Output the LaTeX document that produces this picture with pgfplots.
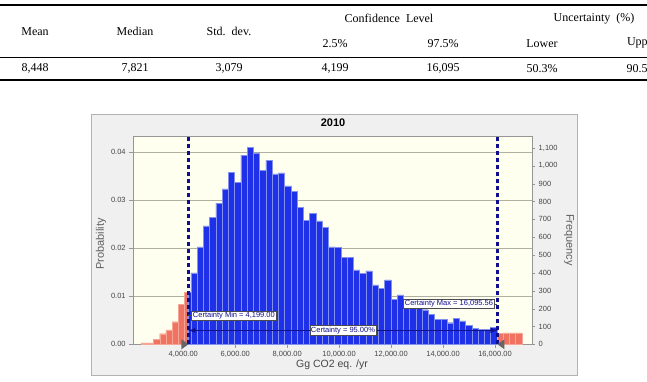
\documentclass[border=0pt]{standalone}
\usepackage{pgfplots}
\pgfplotsset{compat=1.18}
\usepackage{fontspec}
\setmainfont{Liberation Serif}
\newfontfamily\chartfont{Liberation Sans}

\definecolor{panelbg}{RGB}{240,240,240}
\definecolor{panelborder}{RGB}{178,178,178}
\definecolor{plotbg}{RGB}{255,255,240}
\definecolor{gridcol}{RGB}{176,176,160}
\definecolor{axisgray}{RGB}{150,150,150}
\definecolor{tickcol}{RGB}{70,70,70}
\definecolor{barblue}{RGB}{30,48,232}
\definecolor{baredge}{RGB}{130,145,238}
\definecolor{barred}{RGB}{240,114,96}
\definecolor{rededge}{RGB}{246,165,150}
\definecolor{certnavy}{RGB}{16,16,140}
\definecolor{labelgray}{RGB}{95,95,95}

% histogram bins: centre of bin, probability
\pgfplotstableread{
x y
2491.2 0.0003
2731.6 0.0003
2972.0 0.0011
3212.4 0.0022
3452.8 0.0030
3693.2 0.0047
3933.6 0.0083
}\lowtail
\pgfplotstableread{
x y
4414.4 0.0149
4654.8 0.0203
4895.2 0.0247
5135.6 0.0265
5376.0 0.0294
5616.4 0.0324
5856.8 0.0358
6097.2 0.0337
6337.6 0.0394
6578.0 0.0410
6818.4 0.0399
7058.8 0.0363
7299.2 0.0383
7539.6 0.0355
7780.0 0.0357
8020.4 0.0330
8260.8 0.0318
8501.2 0.0285
8741.6 0.0258
8982.0 0.0273
9222.4 0.0257
9462.8 0.0244
9703.2 0.0203
9943.6 0.0202
10184.0 0.0181
10424.4 0.0181
10664.8 0.0155
10905.2 0.0148
11145.6 0.0153
11386.0 0.0124
11626.4 0.0117
11866.8 0.0134
12107.2 0.0094
12347.6 0.0103
12588.0 0.0092
12828.4 0.0085
13068.8 0.0080
13309.2 0.0072
13549.6 0.0063
13790.0 0.0052
14030.4 0.0052
14270.8 0.0045
14511.2 0.0054
14751.6 0.0049
14992.0 0.0040
15232.4 0.0033
15472.8 0.0031
15713.2 0.0031
15953.6 0.0035
}\certain
\pgfplotstableread{
x y
16434.4 0.0024
16674.8 0.0024
16915.2 0.0024
}\hightail

\begin{document}
\begin{tikzpicture}[x=1pt,y=1pt]
\useasboundingbox (0,0) rectangle (647,-382);
\clip (0,0) rectangle (647,-382);

% ---- summary table ----
\draw[line width=2pt] (0,-4.7) -- (647,-4.7);
\draw[line width=1.2pt] (0,-57.3) -- (647,-57.3);
\draw[line width=2pt] (0,-80.2) -- (647,-80.2);
\begin{scope}[every node/.style={inner sep=0pt, font=\fontsize{12}{14}\selectfont}]
\node at (389,-18.3) {Confidence\ \ Level};
\node at (594,-18.3) {Uncertainty\ \ (\%)};
\node at (35,-31.5) {Mean};
\node at (135,-31.5) {Median};
\node at (229,-31.5) {Std.\ \ dev.};
\node at (335,-43.3) {2.5\%};
\node at (443,-43.3) {97.5\%};
\node at (542,-43.3) {Lower};
\node at (642,-43.3) {Upper};
\node at (35,-68.3) {8,448};
\node at (135,-68.3) {7,821};
\node at (229,-68.3) {3,079};
\node at (335,-68.3) {4,199};
\node at (443,-68.3) {16,095};
\node at (542,-68.3) {50.3\%};
\node at (642,-68.3) {90.5\%};
\end{scope}

% ---- chart panel ----
\filldraw[fill=panelbg, draw=panelborder, line width=0.8pt] (91.7,-114) rectangle (577,-375);
\node[font=\chartfont\bfseries\fontsize{11}{13}\selectfont] at (333,-122.5) {2010};
\node[rotate=90, text=labelgray, font=\chartfont\fontsize{11}{13}\selectfont] at (101,-244) {Probability};
\node[rotate=-90, text=labelgray, font=\chartfont\fontsize{11}{13}\selectfont] at (569,-240) {Frequency};
\node[text=tickcol, font=\chartfont\fontsize{10.5}{12}\selectfont] at (332,-365) {Gg CO2 eq. /yr};

% frequency scale on the right
\begin{axis}[
  at={(132.7pt,-344.3pt)}, anchor=south west,
  scale only axis, width=399pt, height=208.3pt,
  xmin=2052, xmax=17413, ymin=0, ymax=1167,
  hide x axis,
  axis y line*=right,
  axis line style={draw=axisgray},
  ytick={0,100,...,1100},
  yticklabels={0,100,200,300,400,500,600,700,800,900,{1,000},{1,100}},
  tick align=outside, major tick length=3.5pt,
  tick style={draw=axisgray},
  yticklabel style={font=\chartfont\fontsize{7.5}{9}\selectfont, text=tickcol},
]
\end{axis}

% probability histogram
\begin{axis}[
  at={(132.7pt,-344.3pt)}, anchor=south west,
  scale only axis, width=399pt, height=208.3pt,
  xmin=2052, xmax=17413, ymin=0, ymax=0.0434,
  clip=false,
  scaled x ticks=false, scaled y ticks=false,
  axis background/.style={fill=plotbg},
  axis line style={draw=axisgray},
  xtick={4000,6000,8000,10000,12000,14000,16000},
  xticklabels={{4,000.00},{6,000.00},{8,000.00},{10,000.00},{12,000.00},{14,000.00},{16,000.00}},
  ytick={0,0.01,0.02,0.03,0.04},
  /pgf/number format/fixed,
  /pgf/number format/fixed zerofill,
  /pgf/number format/precision=2,
  /pgf/number format/assume math mode=true,
  ticklabel style={font=\chartfont\fontsize{7.5}{9}\selectfont, text=tickcol},
  xtick pos=bottom, ytick pos=left,
  tick align=outside, major tick length=3.5pt,
  tick style={draw=axisgray},
  ymajorgrids, grid style={draw=gridcol, line width=0.8pt},
]
\addplot[ybar, bar shift=0pt, bar width=240.4, fill=barred, draw=rededge, line width=0.4pt] table {\lowtail};
\addplot[ybar, bar shift=0pt, bar width=145.2, fill=barred, draw=rededge, line width=0.4pt] coordinates {(4126.4,0.0109)};
\addplot[ybar, bar shift=0pt, bar width=95.2, fill=barblue, draw=baredge, line width=0.4pt] coordinates {(4246.6,0.0109)};
\addplot[ybar, bar shift=0pt, bar width=240.4, fill=barblue, draw=baredge, line width=0.4pt] table {\certain};
\addplot[ybar, bar shift=0pt, bar width=218.6, fill=barred, draw=rededge, line width=0.4pt] coordinates {(16204.9,0.0024)};
\addplot[ybar, bar shift=0pt, bar width=240.4, fill=barred, draw=rededge, line width=0.4pt] table {\hightail};

% certainty limits
\addplot[certnavy, line width=2.2pt, dash pattern=on 4.5pt off 2.5pt] coordinates {(4199,0) (4199,0.0434)};
\addplot[certnavy, line width=2.2pt, dash pattern=on 4.5pt off 2.5pt] coordinates {(16095.56,0) (16095.56,0.0434)};
\draw[certnavy, line width=1.4pt, <->, >=latex] (axis cs:4199,0.0029) -- (axis cs:16095.56,0.0029);

\node[fill=white, draw=black!70, line width=0.5pt, inner sep=1.2pt, text=certnavy,
      font=\chartfont\fontsize{7.5}{9}\selectfont] at (axis cs:10147,0.0029) {Certainty = 95.00\%};
\draw[black!70, line width=0.8pt] (axis cs:4199,0.0060) -- ++(3pt,0pt);
\node[anchor=west, fill=white, draw=black!70, line width=0.5pt, inner sep=1.2pt, text=certnavy,
      font=\chartfont\fontsize{7.5}{9}\selectfont] at ([xshift=3pt]axis cs:4199,0.0060) {Certainty Min = 4,199.00};
\draw[black!70, line width=0.8pt] (axis cs:16095.56,0.0084) -- ++(-3pt,0pt);
\node[anchor=east, fill=white, draw=black!70, line width=0.5pt, inner sep=1.2pt, text=certnavy,
      font=\chartfont\fontsize{7.5}{9}\selectfont] at ([xshift=-3pt]axis cs:16095.56,0.0084) {Certainty Max = 16,095.56};

% sliders on the baseline
\fill[black!60] (axis cs:4199,0) -- ++(-7pt,5pt) -- ++(0pt,-10pt) -- cycle;
\fill[black!60] (axis cs:16095.56,0) -- ++(7pt,5pt) -- ++(0pt,-10pt) -- cycle;
\end{axis}
\end{tikzpicture}
\end{document}
